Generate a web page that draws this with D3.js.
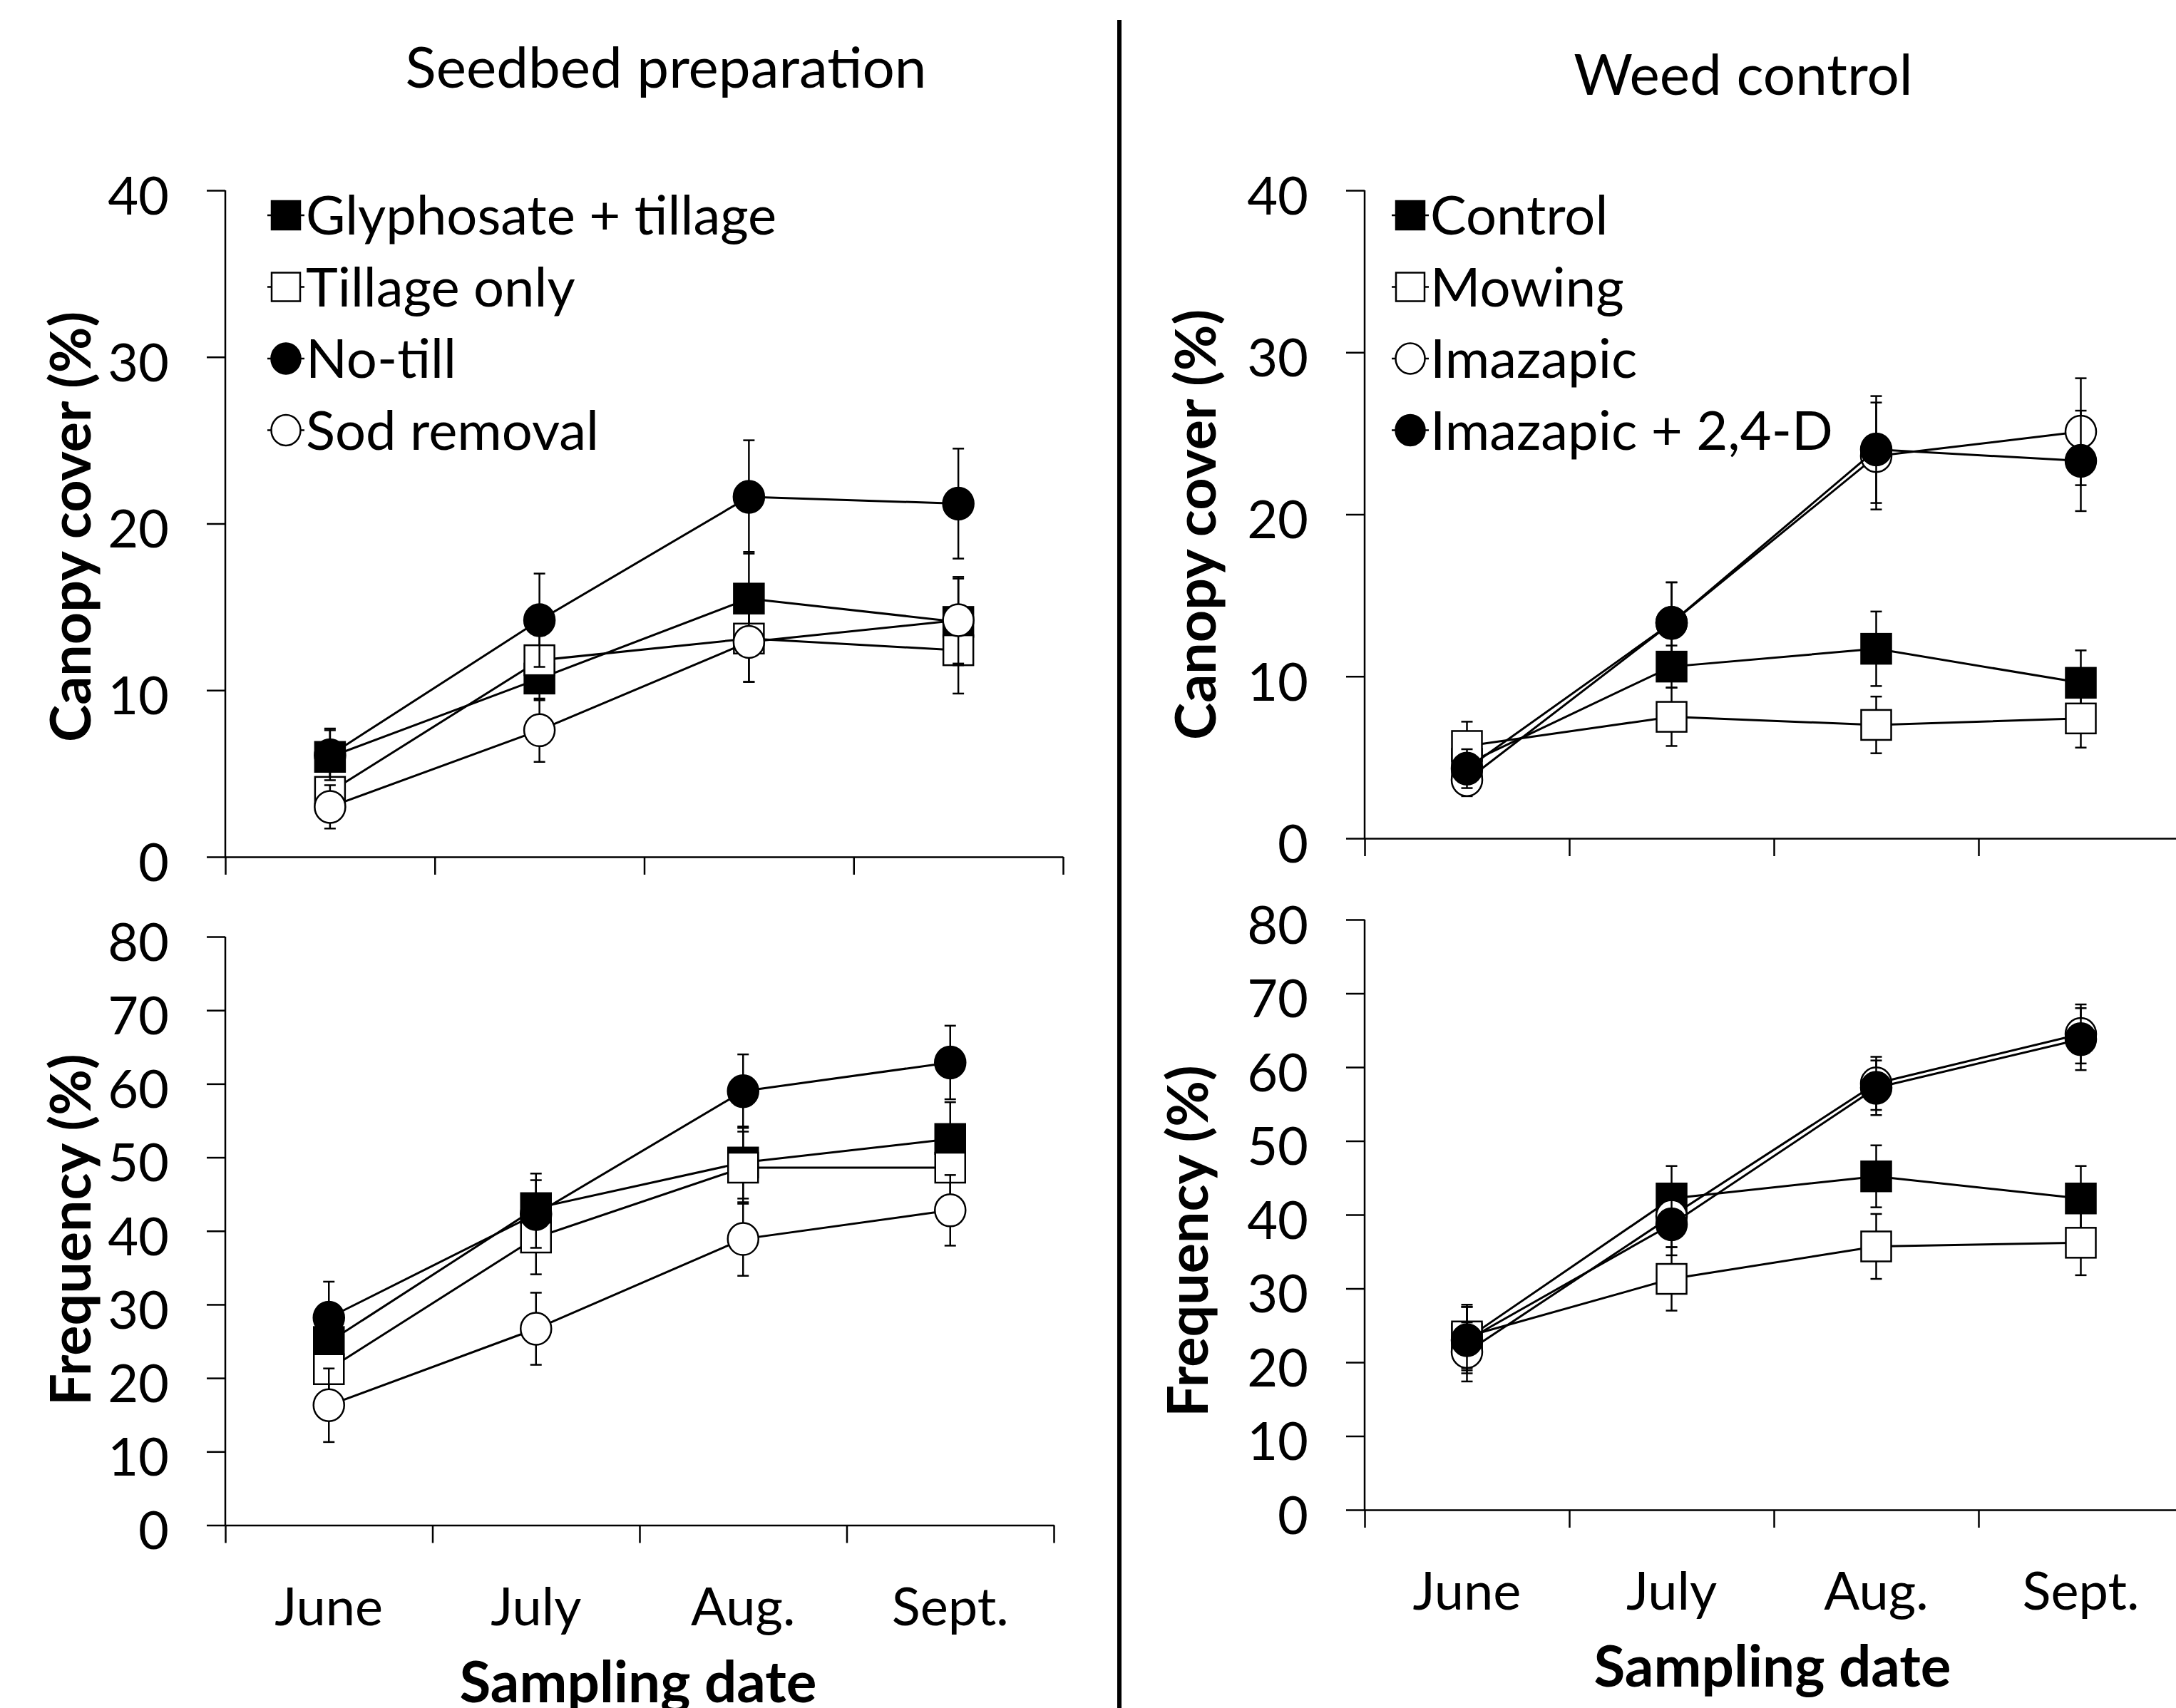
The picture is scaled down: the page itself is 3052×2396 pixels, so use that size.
<!DOCTYPE html>
<html>
<head>
<meta charset="utf-8">
<script src="https://cdn.jsdelivr.net/npm/d3@7"></script>
<style>
  body { margin: 0; background: #fff; }
  svg { display: block; font-family: Lato, "Open Sans", sans-serif; }
  .axis path, .axis line { stroke: #000; stroke-width: 2.5; }
</style>
</head>
<body>
<script>
// months on the x axis
const months = ["June", "July", "Aug.", "Sept."];

// series names
const seedbedSeries = ["Glyphosate + tillage", "Tillage only", "No-till", "Sod removal"];
const weedSeries = ["Control", "Mowing", "Imazapic", "Imazapic + 2,4-D"];

// canopy cover (%) - seedbed preparation, mean and SE
const seedCoverMean = [
  [6.0, 10.7, 15.5, 14.1],
  [3.9, 11.8, 13.1, 12.4],
  [6.1, 14.2, 21.6, 21.2],
  [3.0, 7.6, 12.9, 14.2]
];
const seedCoverSE = [
  [1.7, 1.3, 2.8, 2.6],
  [1.2, 1.5, 2.6, 2.6],
  [1.5, 2.8, 3.4, 3.3],
  [1.3, 1.9, 2.4, 2.6]
];

// canopy cover (%) - weed control
const weedCoverMean = [
  [4.6, 10.6, 11.7, 9.6],
  [5.7, 7.5, 7.0, 7.4],
  [3.6, 13.3, 23.6, 25.1],
  [4.3, 13.3, 24.0, 23.3]
];
const weedCoverSE = [
  [1.2, 1.3, 2.3, 2.0],
  [1.5, 1.8, 1.75, 1.8],
  [1.0, 2.5, 3.3, 3.3],
  [1.2, 2.5, 3.3, 3.1]
];

// frequency (%) - seedbed preparation
const seedFreqMean = [
  [24.9, 43.1, 49.3, 52.5],
  [21.2, 39.1, 48.6, 48.6],
  [28.2, 42.3, 59.0, 62.9],
  [16.3, 26.7, 38.9, 42.8]
];
const seedFreqSE = [
  [4.5, 4.7, 4.9, 5.0],
  [4.3, 5.0, 4.9, 4.8],
  [4.9, 4.6, 5.0, 5.0],
  [5.0, 4.9, 5.0, 4.8]
];

// frequency (%) - weed control
const weedFreqMean = [
  [23.2, 42.2, 45.2, 42.2],
  [23.5, 31.3, 35.7, 36.2],
  [21.4, 39.8, 57.8, 64.5],
  [23.0, 38.7, 57.2, 63.8]
];
const weedFreqSE = [
  [4.3, 4.4, 4.2, 4.4],
  [4.3, 4.3, 4.4, 4.4],
  [4.0, 4.2, 3.6, 4.0],
  [4.5, 4.2, 3.7, 4.2]
];

const coverTicks = [0, 10, 20, 30, 40];
const freqTicks = [0, 10, 20, 30, 40, 50, 60, 70, 80];

// marker style per series
const seedMarkers = ["sq-fill", "sq-open", "ci-fill", "ci-open"];
const weedMarkers = ["sq-fill", "sq-open", "ci-open", "ci-fill"];

const W = 3052, H = 2396;
const svg = d3.select("body").append("svg")
  .attr("width", W).attr("height", H);

svg.append("rect").attr("width", W).attr("height", H).attr("fill", "#fff");

var panels = [
  {names: seedbedSeries, mean: seedCoverMean, se: seedCoverSE, ticks: coverTicks, markers: seedMarkers,
   xr: [316, 1491], yr: [1202, 267], title: "Canopy cover (%)", titleX: 127, titleY: 739, legend: 401, xLabels: false},
  {names: weedSeries, mean: weedCoverMean, se: weedCoverSE, ticks: coverTicks, markers: weedMarkers,
   xr: [1914, 3062], yr: [1176, 267], title: "Canopy cover (%)", titleX: 1705, titleY: 736, legend: 1978, xLabels: false},
  {names: seedbedSeries, mean: seedFreqMean, se: seedFreqSE, ticks: freqTicks, markers: seedMarkers,
   xr: [316, 1478], yr: [2139.5, 1314], title: "Frequency (%)", titleX: 127, titleY: 1725, legend: null, xLabels: true},
  {names: weedSeries, mean: weedFreqMean, se: weedFreqSE, ticks: freqTicks, markers: weedMarkers,
   xr: [1914, 3062], yr: [2118, 1290], title: "Frequency (%)", titleX: 1694, titleY: 1741, legend: null, xLabels: true}
];

function drawMarker(g, type, cx, cy, size) {
  var fill = type.endsWith("fill") ? "#000" : "#fff";
  if (type.startsWith("sq")) {
    g.append("rect")
      .attr("x", cx - size / 2).attr("y", cy - size / 2)
      .attr("width", size).attr("height", size)
      .attr("fill", fill).attr("stroke", "#000").attr("stroke-width", 2.5);
  } else {
    g.append("ellipse")
      .attr("cx", cx).attr("cy", cy)
      .attr("rx", size / 2 + 0.5).attr("ry", size / 2 + 1.5)
      .attr("fill", fill).attr("stroke", "#000").attr("stroke-width", 2.5);
  }
}

panels.forEach(p => {
  var g = svg.append("g");
  var yMax = d3.max(p.ticks);
  var y = d3.scaleLinear().domain([0, yMax]).range(p.yr);
  var x = d3.scaleBand().domain(months).range(p.xr);
  var xEdge = d3.scaleLinear().domain([0, months.length]).range(p.xr);

  // axes
  g.append("g").attr("class", "axis")
    .attr("transform", "translate(0," + p.yr[0] + ")")
    .call(d3.axisBottom(xEdge).tickValues(d3.range(months.length + 1)).tickFormat("")
      .tickSize(25).tickSizeOuter(0));

  var yAxis = g.append("g").attr("class", "axis")
    .attr("transform", "translate(" + p.xr[0] + ",0)")
    .call(d3.axisLeft(y).tickValues(p.ticks).tickSize(26).tickSizeOuter(0).tickPadding(53));
  yAxis.selectAll("text")
    .attr("font-size", 74).attr("font-family", "Lato").attr("fill", "#000").attr("dy", "0.45em");
  yAxis.select(".domain").attr("d", "M0," + p.yr[0] + "V" + p.yr[1]);

  // axis title
  g.append("text")
    .attr("transform", "translate(" + p.titleX + "," + p.titleY + ") rotate(-90)")
    .attr("text-anchor", "middle")
    .attr("font-size", 79).attr("font-weight", "bold")
    .text(p.title);

  if (p.xLabels) {
    g.selectAll(".mlabel").data(months).enter().append("text")
      .attr("class", "mlabel")
      .attr("x", d => x(d) + x.bandwidth() / 2)
      .attr("y", p.yr[0] + 140)
      .attr("text-anchor", "middle")
      .attr("font-size", 74)
      .text(d => d);
    g.append("text")
      .attr("x", (p.xr[0] + p.xr[1]) / 2 - 2)
      .attr("y", p.yr[0] + 248)
      .attr("text-anchor", "middle")
      .attr("font-size", 80).attr("font-weight", "bold")
      .text("Sampling date");
  }

  // series
  var cx = m => x(m) + x.bandwidth() / 2;
  var line = d3.line().x(d => cx(d.m)).y(d => y(d.v));
  p.names.forEach((name, i) => {
    var pts = months.map((m, j) => ({m: m, v: p.mean[i][j], e: p.se[i][j]}));
    var sg = g.append("g");
    pts.forEach(d => {
      var px = cx(d.m);
      sg.append("line").attr("x1", px).attr("x2", px)
        .attr("y1", y(d.v + d.e)).attr("y2", y(d.v - d.e))
        .attr("stroke", "#000").attr("stroke-width", 2.5);
      [d.v + d.e, d.v - d.e].forEach(v => {
        sg.append("line").attr("x1", px - 8).attr("x2", px + 8)
          .attr("y1", y(v)).attr("y2", y(v))
          .attr("stroke", "#000").attr("stroke-width", 2.5);
      });
    });
    sg.append("path").datum(pts)
      .attr("d", line).attr("fill", "none")
      .attr("stroke", "#000").attr("stroke-width", 3);
    pts.forEach(d => drawMarker(sg, p.markers[i], cx(d.m), y(d.v), 42));
  });

  // legend
  if (p.legend !== null) {
    p.names.forEach((name, i) => {
      var ly = 302 + i * 100.5;
      var lg = g.append("g");
      lg.append("line").attr("x1", p.legend - 26).attr("x2", p.legend + 26)
        .attr("y1", ly).attr("y2", ly).attr("stroke", "#000").attr("stroke-width", 2.5);
      drawMarker(lg, p.markers[i], p.legend, ly, 40);
      lg.append("text")
        .attr("x", p.legend + 28).attr("y", ly + 27)
        .attr("font-size", 76)
        .text(name);
    });
  }
});

// panel titles
svg.append("text").attr("x", 934).attr("y", 123)
  .attr("text-anchor", "middle").attr("font-size", 80)
  .text("Seedbed preparation");
svg.append("text").attr("x", 2445).attr("y", 133)
  .attr("text-anchor", "middle").attr("font-size", 80)
  .text("Weed control");

// divider
svg.append("line").attr("x1", 1570).attr("x2", 1570)
  .attr("y1", 28).attr("y2", H)
  .attr("stroke", "#000").attr("stroke-width", 6);
</script>
</body>
</html>
